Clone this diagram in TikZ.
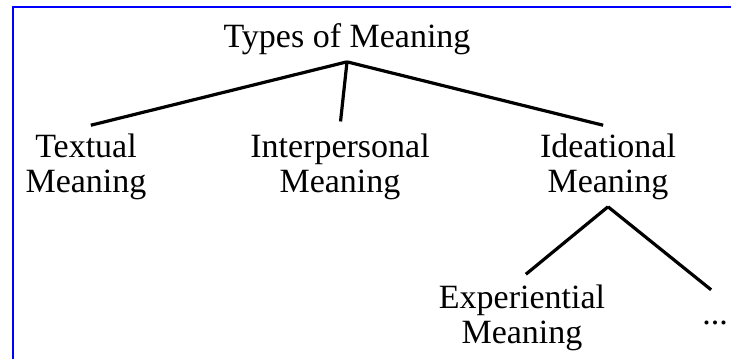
\documentclass[tikz,border=0pt]{standalone}
\usepackage{fontspec}
\setmainfont{Liberation Serif}
\usetikzlibrary{positioning}

\begin{document}
\begin{tikzpicture}[x=1pt, y=-1pt, level distance=127.6pt,
    every node/.style={font=\fontsize{34}{35}\selectfont, align=center, inner sep=7pt},
    edge from parent/.style={draw, line width=3.2pt, shorten >=5pt},
    edge from parent path={(\tikzparentnode.south) -- (\tikzchildnode.north)},
    level 1/.style={sibling distance=261pt},
    level 2/.style={sibling distance=193pt, level distance=151pt}]
    \useasboundingbox (0,0) rectangle (731,359);
    \draw[blue, line width=2.5pt] (731,7) -- (13,7) -- (13,359);
    \node (types) at (347,39) {Types of Meaning}
        child {node (textual) {Textual\\Meaning}}
        child[xshift=-7pt] {node (interp) {Interpersonal\\Meaning}}
        child {node (idea) {Ideational\\Meaning}
            child[xshift=10.5pt] {node (exper) {Experiential\\Meaning}}
            child[xshift=10.5pt] {node (more) {\strut...}}
        };
\end{tikzpicture}
\end{document}
